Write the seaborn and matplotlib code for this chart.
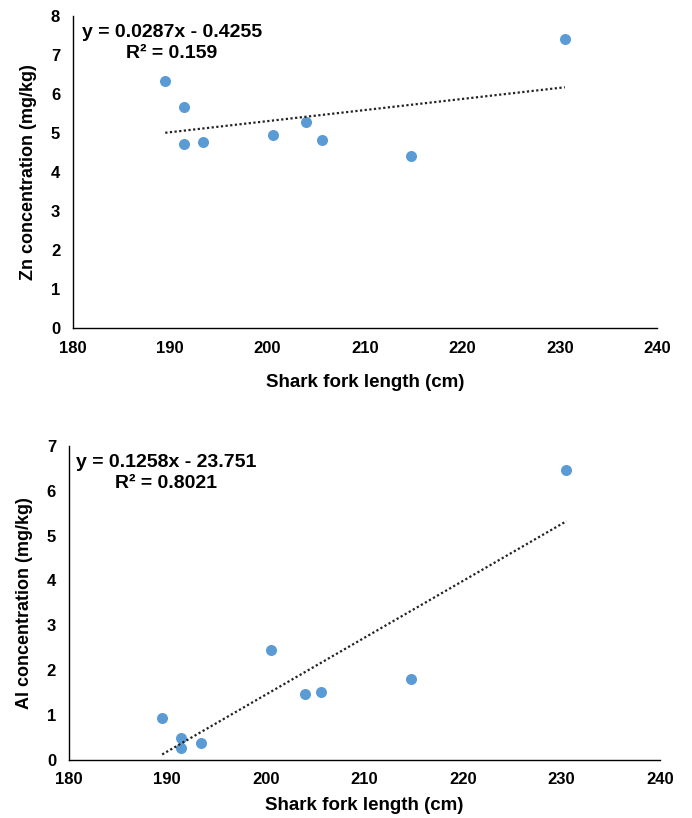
import numpy as np
import pandas as pd
import matplotlib
matplotlib.use("Agg")
import matplotlib.pyplot as plt
import seaborn as sns

# Longueur a la fourche des requins (cm)
fork_length = [189.5, 191.45, 191.45, 193.4, 200.55, 203.97, 205.6, 214.7, 230.5]
# Concentrations (mg/kg)
zn_conc = [6.34, 5.67, 4.72, 4.77, 4.96, 5.29, 4.83, 4.41, 7.41]
al_conc = [0.93, 0.49, 0.27, 0.38, 2.45, 1.47, 1.52, 1.80, 6.45]

zn_eq = "y = 0.0287x - 0.4255\nR² = 0.159"
al_eq = "y = 0.1258x - 23.751\nR² = 0.8021"

df = pd.DataFrame({"FL": fork_length, "Zn": zn_conc, "Al": al_conc})

sns.set_style("white")
plt.rcParams['font.family'] = ['Liberation Sans', 'DejaVu Sans']
plt.rcParams['font.weight'] = 'bold'
plt.rcParams['text.color'] = 'black'
plt.rcParams['axes.labelcolor'] = 'black'
plt.rcParams['xtick.color'] = 'black'
plt.rcParams['ytick.color'] = 'black'

fig = plt.figure(figsize=(6.92, 8.18), dpi=100)
ax1 = fig.add_axes([0.105, 0.599, 0.845, 0.381])
ax2 = fig.add_axes([0.099, 0.071, 0.855, 0.384])

blue = "#5b9bd5"

panels = [
    (ax1, "Zn", "Zn concentration (mg/kg)", zn_eq, 8, 0.17, 13),
    (ax2, "Al", "Al concentration (mg/kg)", al_eq, 7, 0.165, 7),
]

for ax, col, ylab, eq, ymax, xc, xpad in panels:
    sns.regplot(data=df, x="FL", y=col, ax=ax, ci=None,
                scatter_kws={"s": 48, "color": blue, "edgecolor": blue, "alpha": 1},
                line_kws={"color": "#222222", "linestyle": (0, (1, 1.1)), "linewidth": 1.6})
    ax.set_xlim(180, 240)
    ax.set_ylim(0, ymax)
    ax.set_xticks(range(180, 241, 10))
    ax.set_yticks(range(0, ymax + 1))
    ax.set_xlabel("Shark fork length (cm)", fontsize=13.5, fontweight="bold", labelpad=xpad)
    ax.set_ylabel(ylab, fontsize=13, fontweight="bold", labelpad=10)
    ax.tick_params(axis="both", length=0, labelsize=12, pad=9)
    for lab in ax.get_xticklabels() + ax.get_yticklabels():
        lab.set_fontweight("bold")
    sns.despine(ax=ax)
    ax.spines["left"].set_color("black")
    ax.spines["bottom"].set_color("black")
    ax.spines["left"].set_linewidth(1.0)
    ax.spines["bottom"].set_linewidth(1.0)
    ax.text(xc, 0.975, eq, transform=ax.transAxes, fontsize=14, color="black",
            fontweight="bold", va="top", ha="center", multialignment="center",
            linespacing=1.3)

fig.savefig("out.png", dpi=100)
